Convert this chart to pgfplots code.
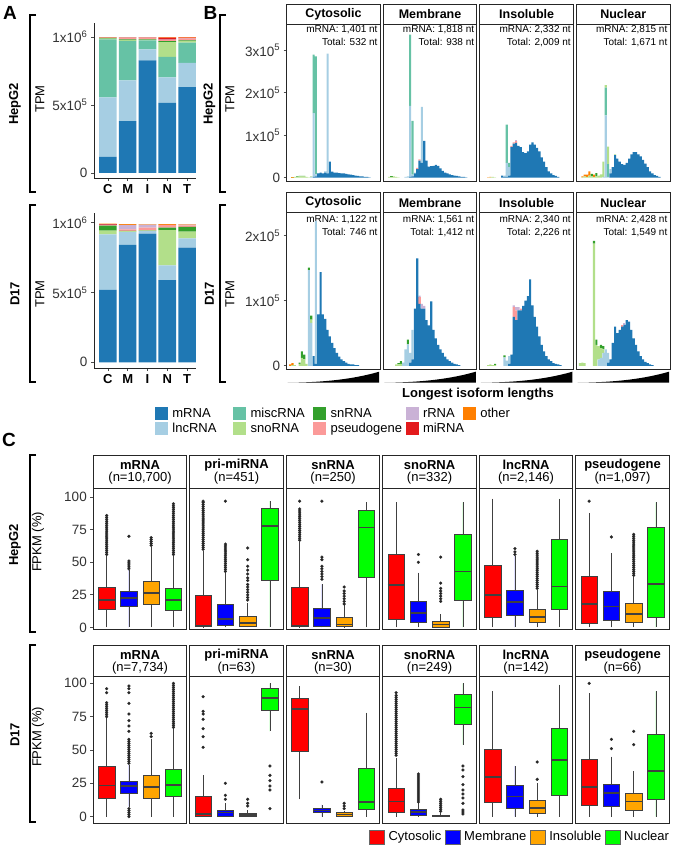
\documentclass[border=0pt]{standalone}
\usepackage{pgfplots}
\pgfplotsset{compat=1.18}
\usepackage{pgfplotstable}
\usepgfplotslibrary{statistics}
\usepackage{fontspec}
\setmainfont{Liberation Sans}
\newcommand\fs[1]{\fontsize{#1}{#1}\selectfont}
\definecolor{cm}{HTML}{1F78B4}
\definecolor{cl}{HTML}{A6CEE3}
\definecolor{cmi}{HTML}{66C2A5}
\definecolor{csno}{HTML}{B2DF8A}
\definecolor{csn}{HTML}{33A02C}
\definecolor{cps}{HTML}{FB9A99}
\definecolor{crr}{HTML}{CAB2D6}
\definecolor{cmir}{HTML}{E31A1C}
\definecolor{coth}{HTML}{FF7F00}
\definecolor{bcyt}{HTML}{FF0000}
\definecolor{bmem}{HTML}{0000FF}
\definecolor{bins}{HTML}{FFA500}
\definecolor{bnuc}{HTML}{00FF00}

\pgfplotsset{
 base/.style={scale only axis, anchor=north west, enlargelimits=false, tick align=outside,
   major tick length=3pt, tick pos=left, tick style={draw=black!70, line width=0.7pt},
   tick label style={font=\fs{13.5}, text=black!80, /pgf/number format/assume math mode=true},
   axis line style={line width=1pt, draw=black!85}},
 abar/.style={base, width=102pt, axis lines*=left,
   every inner x axis line/.append style={-}, every inner y axis line/.append style={-},
   every outer x axis line/.append style={-}, every outer y axis line/.append style={-},
   ybar stacked, bar width=0.89,
   xmin=0.3, xmax=5.45, xtick={1,2,3,4,5}, xticklabels={C,M,I,N,T},
   xticklabel style={font=\bfseries\fs{13}, text=black},
   ytick={0,0.5,1}, yticklabels={0,5x10\textsuperscript{5},1x10\textsuperscript{6}},
   every axis plot/.append style={draw=none}},
 hist/.style={base, width=93.5pt, ybar stacked, bar width=0.9, xmin=0.5, xmax=40.5,
   xtick=\empty, ytick=\empty, every axis plot/.append style={draw=none}},
 cbox/.style={base, width=93.5pt, xmin=0.4, xmax=4.6, xtick=\empty, ytick=\empty,
   boxplot/draw direction=y},
 bxs/.style={draw=black!75, fill=#1, line width=0.6pt, mark=*, mark size=1.5pt,
   mark options={fill=black!85, draw=black!85, line width=0.2pt},
   boxplot/draw direction=y, boxplot/box extend=0.75, boxplot/whisker extend=0,
   boxplot/every median/.style={line width=1.7pt, draw=black!75}},
}
\newcommand\stackA[1]{%
 \addplot[fill=cm] table[x=x,y=m]{#1};
 \addplot[fill=cl] table[x=x,y=l]{#1};
 \addplot[fill=cmi] table[x=x,y=mi]{#1};
 \addplot[fill=csno] table[x=x,y=sno]{#1};
 \addplot[fill=csn] table[x=x,y=sn]{#1};
 \addplot[fill=cps] table[x=x,y=ps]{#1};
 \addplot[fill=crr] table[x=x,y=rr]{#1};
 \addplot[fill=cmir] table[x=x,y=mir]{#1};
 \addplot[fill=coth] table[x=x,y=o]{#1};}
\newcommand\stackB[1]{%
 \addplot[fill=cm] table[x=x,y=m]{#1};
 \addplot[fill=cl] table[x=x,y=l]{#1};
 \addplot[fill=cmi] table[x=x,y=mi]{#1};
 \addplot[fill=csno] table[x=x,y=sno]{#1};
 \addplot[fill=csn] table[x=x,y=sn]{#1};
 \addplot[fill=cps] table[x=x,y=ps]{#1};
 \addplot[fill=crr] table[x=x,y=rr]{#1};
 \addplot[fill=coth] table[x=x,y=o]{#1};}
\newcommand\bxp[7]{\addplot[bxs=#1, boxplot prepared={draw position=#2, lower whisker=#3, lower quartile=#4, median=#5, upper quartile=#6, upper whisker=#7}]}
\newcommand\cstrip[5]{%
  \draw[line width=1pt, draw=black!85] (#1,#2) rectangle ({#1+93.5},#3);
  \node[font=\bfseries\fs{13}, inner sep=0pt] at ({#1+46.75},{#2+10}) {#4};
  \node[font=\fs{13}, inner sep=0pt] at ({#1+46.75},{#2+23}) {(n=#5)};}
\newcommand\ann[4]{\node[anchor=north east,align=right,inner sep=0pt,font=\fontsize{10}{13}\selectfont] at ({#1+91},#2) {mRNA: #3 nt\\Total: #4 nt};}

% ---------- Panel A data (fraction of 1x10^6 TPM)
\pgfplotstableread{
x m l mi sno sn ps rr mir o
1 0.118 0.438 0.427 0.006 0.004 0.003 0 0.002 0.002
2 0.382 0.299 0.290 0.007 0.004 0.010 0.003 0.003 0.002
3 0.828 0.081 0.066 0.004 0.003 0.012 0.002 0.002 0.002
4 0.515 0.188 0.150 0.110 0.007 0.008 0.002 0.015 0.005
5 0.632 0.177 0.149 0.012 0.005 0.013 0.002 0.006 0.004
}\tAH
\pgfplotstableread{
x m l mi sno sn ps rr mir o
1 0.518 0.398 0 0.027 0.036 0.004 0.003 0.002 0.006
2 0.842 0.091 0 0.005 0.004 0.010 0.033 0 0.005
3 0.921 0.019 0 0.003 0.002 0.020 0.022 0 0.003
4 0.589 0.106 0 0.252 0.017 0.018 0.003 0 0.005
5 0.821 0.067 0 0.048 0.035 0.010 0.005 0 0.004
}\tAD

% ---------- Panel B data (units of 1x10^5 TPM)
\pgfplotstableread{
x m l mi sno sn ps rr o
3 0 0 0 0.01 0 0 0 0.01
4 0 0 0 0.02 0 0 0 0
5 0 0 0 0.02 0.01 0 0 0
6 0 0 0 0.03 0.01 0 0 0
7 0 0 0 0.03 0.01 0 0 0
8 0 0 0 0.03 0.01 0 0 0
9 0 0 0 0.02 0 0 0 0
10 0 0 0 0.01 0 0 0 0
11 0 0.02 0 0.01 0 0 0 0
12 0.02 1.5 1.38 0 0 0 0 0
13 0.03 0.05 2.78 0 0 0 0 0
14 0.1 0.01 0 0 0 0 0 0
15 0.12 0 0 0 0 0 0 0
16 0.1 0 0 0 0 0 0 0
17 0.12 0.03 0 0 0 0 0 0
18 0.1 2.82 0 0 0 0 0 0
19 0.38 0 0 0 0 0 0 0
20 0.14 0 0 0 0 0 0 0
21 0.12 0 0 0 0 0 0 0
22 0.12 0 0 0 0 0 0 0
23 0.11 0 0 0 0 0 0 0
24 0.1 0 0 0 0 0 0 0
25 0.1 0 0 0 0 0 0 0
26 0.09 0 0 0 0 0 0 0
27 0.08 0 0 0 0 0 0 0
28 0.07 0 0 0 0 0 0 0
29 0.06 0 0 0 0 0 0 0
30 0.05 0 0 0 0 0 0 0
31 0.04 0 0 0 0 0 0 0
32 0.03 0 0 0 0 0 0 0
33 0.03 0 0 0 0 0 0 0
34 0.02 0 0 0 0 0 0 0
35 0.02 0 0 0 0 0 0 0
36 0.01 0 0 0 0 0 0 0
}\tHa
\pgfplotstableread{
x m l mi sno sn ps rr o
3 0 0 0 0.02 0 0 0 0
4 0 0 0 0.02 0.01 0 0 0
5 0 0 0 0.03 0 0 0 0
6 0 0 0 0.02 0 0 0 0
7 0 0 0 0.01 0 0 0 0
10 0 0.02 0 0 0 0 0 0
11 0 0.03 0 0 0 0 0 0
12 0.02 1.67 1.68 0 0 0 0 0
13 0.03 0.04 1.27 0 0 0 0 0
14 0.1 0.02 0 0 0 0 0 0
15 0.2 0 0 0 0 0.03 0 0
16 0.4 0 0 0 0 0.03 0 0
17 0.35 1.32 0 0 0 0 0 0
18 0.87 0 0 0 0 0 0 0
19 0.4 0 0 0 0 0 0 0
20 0.26 0 0 0 0 0 0 0
21 0.27 0 0 0 0 0 0 0
22 0.28 0 0 0 0 0 0 0
23 0.3 0 0 0 0 0 0 0
24 0.28 0 0 0 0 0 0 0
25 0.22 0 0 0 0 0 0 0
26 0.16 0 0 0 0 0 0 0
27 0.12 0 0 0 0 0 0 0
28 0.1 0 0 0 0 0 0 0
29 0.08 0 0 0 0 0 0 0
30 0.06 0 0 0 0 0 0 0
31 0.05 0 0 0 0 0 0 0
32 0.04 0 0 0 0 0 0 0
33 0.03 0 0 0 0 0 0 0
34 0.02 0 0 0 0 0 0 0
35 0.02 0 0 0 0 0 0 0
36 0.01 0 0 0 0 0 0 0
}\tHb
\pgfplotstableread{
x m l mi sno sn ps rr o
4 0 0 0 0 0 0 0 0.01
5 0 0 0 0.01 0 0 0 0.01
6 0 0 0 0.02 0 0 0 0
7 0 0 0 0.01 0 0 0 0
10 0.05 0 0 0 0 0 0 0
11 0.02 0.03 0 0 0 0 0 0
12 0.02 0.33 0.9 0 0 0 0 0
13 0.05 0.2 0.1 0 0 0 0 0
14 0.72 0 0 0 0 0.03 0 0
15 0.8 0 0 0 0 0.03 0 0
16 0.82 0 0 0 0 0.04 0.02 0
17 0.75 0 0 0 0 0 0 0
18 0.72 0 0 0 0 0 0 0
19 0.6 0 0 0 0 0 0 0
20 0.58 0 0 0 0 0 0 0
21 0.62 0 0 0 0 0 0 0
22 0.78 0 0 0 0 0 0 0
23 0.83 0 0 0 0 0 0 0
24 0.78 0 0 0 0 0 0 0
25 0.7 0 0 0 0 0 0 0
26 0.62 0 0 0 0 0 0 0
27 0.48 0 0 0 0 0 0 0
28 0.38 0 0 0 0 0 0 0
29 0.25 0 0 0 0 0 0 0
30 0.15 0 0 0 0 0 0 0
31 0.1 0 0 0 0 0 0 0
32 0.06 0 0 0 0 0 0 0
33 0.04 0 0 0 0 0 0 0
34 0.02 0 0 0 0 0 0 0
}\tHc
\pgfplotstableread{
x m l mi sno sn ps rr o
3 0 0 0 0.01 0 0 0 0.02
4 0 0 0 0.03 0 0 0 0.04
5 0 0 0 0.02 0 0 0 0.05
6 0 0 0 0.05 0 0 0 0.1
7 0 0 0 0.03 0.06 0 0 0
8 0 0 0 0.02 0 0 0 0.05
9 0 0 0 0.03 0.08 0 0 0
10 0 0 0 0.05 0 0 0 0
11 0 0 0 0.08 0 0 0 0
12 0 0.02 0 0.36 0 0 0 0
13 0 1.47 0.65 0.06 0 0 0 0
14 0 0.02 0.3 0.41 0 0 0 0
15 0.1 0.1 0 0 0 0 0 0
16 0.25 0 0 0 0 0 0 0
17 0.53 0 0 0.02 0 0 0 0
18 0.45 0 0 0 0 0 0 0
19 0.38 0 0 0 0 0 0 0
20 0.32 0 0 0 0 0 0 0
21 0.3 0 0 0 0 0 0 0
22 0.35 0 0 0 0 0 0 0
23 0.45 0 0 0 0 0 0 0
24 0.55 0 0 0 0 0 0 0
25 0.6 0 0 0 0 0 0 0
26 0.6 0 0 0 0 0 0 0
27 0.55 0 0 0 0 0 0 0
28 0.5 0 0 0 0 0 0 0
29 0.42 0 0 0 0 0 0 0
30 0.33 0 0 0 0 0 0 0
31 0.25 0 0 0 0 0 0 0
32 0.15 0 0 0 0 0 0 0
33 0.1 0 0 0 0 0 0 0
34 0.06 0 0 0 0 0 0 0
35 0.04 0 0 0 0 0 0 0
36 0.02 0 0 0 0 0 0 0
}\tHd
\pgfplotstableread{
x m l mi sno sn ps rr o
2 0 0 0 0 0 0 0 0.02
3 0 0 0 0.01 0 0 0 0.03
4 0 0 0 0.01 0 0 0 0
6 0 0 0 0.03 0.02 0 0 0
7 0 0 0 0.12 0.1 0 0 0
8 0 0 0 0.1 0.07 0 0 0
9 0 0 0 0.03 0 0 0 0
10 0 1.47 0 0 0.04 0 0 0
11 0 0.66 0 0.05 0.06 0 0 0
12 0.15 0 0 0 0 0 0 0
13 0.03 2.2 0 0 0 0 0 0
14 0.79 0 0 0 0 0 0 0
15 1.44 0 0 0 0 0 0 0
16 0.79 0 0 0 0 0 0 0
17 0.72 0 0 0 0 0 0 0
18 0.55 0 0 0 0 0 0 0
19 0.45 0 0 0 0 0 0 0
20 0.35 0 0 0 0 0 0 0
21 0.27 0 0 0 0 0 0 0
22 0.2 0 0 0 0 0 0 0
23 0.14 0 0 0 0 0 0 0
24 0.1 0 0 0 0 0 0 0
25 0.07 0 0 0 0 0 0 0
26 0.05 0 0 0 0 0 0 0
27 0.03 0 0 0 0 0 0 0
28 0.02 0 0 0 0 0 0 0
29 0.02 0 0 0 0 0 0 0
30 0.01 0 0 0 0 0 0 0
31 0.01 0 0 0 0 0 0 0
}\tDa
\pgfplotstableread{
x m l mi sno sn ps rr o
6 0 0 0 0.02 0 0 0 0
7 0 0 0 0.02 0.02 0 0 0
8 0 0 0 0.03 0.04 0 0 0
9 0 0.05 0 0 0 0 0 0
10 0 0.25 0 0 0 0 0 0
11 0 0.33 0 0 0.07 0 0 0
12 0.05 0.15 0 0 0 0 0 0
13 0.1 0.45 0 0 0 0 0 0
14 0.88 0 0 0 0 0 0 0
15 1.65 0 0 0 0 0 0 0
16 0.95 0 0 0 0 0.1 0.03 0
17 0.88 0 0 0 0 0 0.07 0
18 0.88 0 0 0 0 0 0.04 0
19 0.7 0 0 0 0 0 0 0
20 0.62 0 0 0 0 0 0 0
21 0.99 0 0 0 0 0 0 0
22 0.55 0 0 0 0 0 0 0
23 0.42 0 0 0 0 0 0 0
24 0.32 0 0 0 0 0 0 0
25 0.25 0 0 0 0 0 0 0
26 0.2 0 0 0 0 0 0 0
27 0.14 0 0 0 0 0 0 0
28 0.1 0 0 0 0 0 0 0
29 0.07 0 0 0 0 0 0 0
30 0.05 0 0 0 0 0 0 0
31 0.03 0 0 0 0 0 0 0
32 0.02 0 0 0 0 0 0 0
33 0.01 0 0 0 0 0 0 0
}\tDb
\pgfplotstableread{
x m l mi sno sn ps rr o
4 0 0 0 0.01 0 0 0 0
5 0 0 0 0.02 0 0 0 0
6 0 0 0 0.01 0 0 0 0
7 0 0 0 0.01 0.02 0 0 0
11 0 0.13 0 0 0.03 0 0 0
12 0 0.08 0 0 0 0 0 0
13 0.03 0.12 0 0 0 0 0 0
14 0.17 0 0 0 0 0 0 0
15 0.75 0 0 0 0 0.15 0.03 0
16 0.7 0 0 0 0 0.15 0.05 0
17 0.85 0 0 0 0 0 0.05 0
18 0.85 0 0 0 0 0.03 0 0
19 0.92 0 0 0 0 0 0 0
20 1.0 0 0 0 0 0 0 0
21 1.07 0 0 0 0 0 0 0
22 1.33 0 0 0 0 0 0 0
23 0.93 0 0 0 0 0 0 0
24 0.75 0 0 0 0 0 0 0
25 0.6 0 0 0 0 0 0 0
26 0.45 0 0 0 0 0 0 0
27 0.32 0 0 0 0 0 0 0
28 0.22 0 0 0 0 0 0 0
29 0.15 0 0 0 0 0 0 0
30 0.1 0 0 0 0 0 0 0
31 0.07 0 0 0 0 0 0 0
32 0.04 0 0 0 0 0 0 0
33 0.03 0 0 0 0 0 0 0
34 0.02 0 0 0 0 0 0 0
35 0.01 0 0 0 0 0 0 0
}\tDc
\pgfplotstableread{
x m l mi sno sn ps rr o
2 0 0 0 0.04 0 0 0 0
3 0 0 0 0.05 0 0 0 0
4 0 0 0 0.04 0 0 0 0
8 0 0 0 1.88 0.04 0 0 0
9 0 0 0 0.32 0.08 0 0 0
10 0 0.1 0 0.2 0 0 0 0
11 0 0.12 0 0.15 0.05 0 0 0
12 0 0.2 0 0.05 0.05 0 0 0
13 0 0.25 0 0 0 0 0 0
14 0.05 0.15 0 0 0 0 0 0
15 0.1 0 0 0 0 0 0 0
16 0.35 0 0 0 0 0 0 0
17 0.6 0 0 0 0 0 0 0
18 0.5 0 0 0 0 0 0 0
19 0.55 0 0 0 0 0 0 0
20 0.6 0 0 0 0 0.03 0 0
21 0.63 0 0 0 0 0 0.03 0
22 0.7 0 0 0 0 0 0 0
23 0.68 0 0 0 0 0 0 0
24 0.55 0 0 0 0 0 0 0
25 0.42 0 0 0 0 0 0 0
26 0.32 0 0 0 0 0 0 0
27 0.22 0 0 0 0 0 0 0
28 0.15 0 0 0 0 0 0 0
29 0.1 0 0 0 0 0 0 0
30 0.06 0 0 0 0 0 0 0
31 0.04 0 0 0 0 0 0 0
32 0.02 0 0 0 0 0 0 0
33 0.01 0 0 0 0 0 0 0
}\tDd

\begin{document}
\begin{tikzpicture}
\path[use as bounding box] (0pt,0pt) rectangle (673pt,-846pt);
\begin{scope}[x=1pt,y=-1pt]
\node[font=\bfseries\fs{19}] at (10,13) {A};
\node[font=\bfseries\fs{19}] at (210.5,13) {B};
\node[font=\bfseries\fs{19}] at (9,440) {C};
\foreach \xx/\ya/\yb in {30/15/192,30/205/382,220/15/192,220/205/382,30/455/632,30/645/822}
  {\draw[line width=1.3pt] (\xx+6,\ya) -- (\xx,\ya) -- (\xx,\yb) -- (\xx+6,\yb);}
\node[rotate=90,font=\bfseries\fs{13}] at (15,104) {HepG2};
\node[rotate=90,font=\fs{13}] at (40,99) {TPM};
\node[rotate=90,font=\bfseries\fs{13}] at (15,294) {D17};
\node[rotate=90,font=\fs{13}] at (40,294) {TPM};
\node[rotate=90,font=\bfseries\fs{13}] at (209.5,104) {HepG2};
\node[rotate=90,font=\fs{13}] at (230,99) {TPM};
\node[rotate=90,font=\bfseries\fs{13}] at (209.5,294) {D17};
\node[rotate=90,font=\fs{13}] at (230,294) {TPM};
\node[rotate=90,font=\bfseries\fs{13}] at (15,545) {HepG2};
\node[rotate=90,font=\fs{13}] at (38,542) {FPKM (\%)};
\node[rotate=90,font=\bfseries\fs{13}] at (15,735) {D17};
\node[rotate=90,font=\fs{13}] at (38,737) {FPKM (\%)};
\foreach \L/\T in {286.7/Cytosolic,383.3/Membrane,479.9/Insoluble,576.5/Nuclear}{
  \draw[line width=1pt,draw=black!85] (\L,4) rectangle (\L+93.5,24);
  \node[font=\bfseries\fs{12.5}] at (\L+46.75,14) {\T};
  \draw[line width=1pt,draw=black!85] (\L,192.7) rectangle (\L+93.5,212.7);
  \node[font=\bfseries\fs{12.5}] at (\L+46.75,202.7) {\T};
  \fill (\L+1,382.7) -- (\L+92.5,382.7) -- (\L+92.5,371.7) .. controls (\L+62,380.5) and (\L+30,382.4) .. (\L+1,382.7) -- cycle;
}
\ann{286.7}{25.3}{1,401}{532}
\ann{383.3}{25.3}{1,818}{938}
\ann{479.9}{25.3}{2,332}{2,009}
\ann{576.5}{25.3}{2,815}{1,671}
\ann{286.7}{215}{1,122}{746}
\ann{383.3}{215}{1,561}{1,412}
\ann{479.9}{215}{2,340}{2,226}
\ann{576.5}{215}{2,428}{1,549}
\node[font=\bfseries\fs{13}] at (478,394) {Longest isoform lengths};
\cstrip{93.3}{455}{488.3}{mRNA}{10,700}
\cstrip{189.8}{455}{488.3}{pri-miRNA}{451}
\cstrip{286.3}{455}{488.3}{snRNA}{250}
\cstrip{382.8}{455}{488.3}{snoRNA}{332}
\cstrip{479.3}{455}{488.3}{lncRNA}{2,146}
\cstrip{575.8}{455}{488.3}{pseudogene}{1,097}
\cstrip{93.3}{645}{676}{mRNA}{7,734}
\cstrip{189.8}{645}{676}{pri-miRNA}{63}
\cstrip{286.3}{645}{676}{snRNA}{30}
\cstrip{382.8}{645}{676}{snoRNA}{249}
\cstrip{479.3}{645}{676}{lncRNA}{142}
\cstrip{575.8}{645}{676}{pseudogene}{66}
\end{scope}

% ---------------- Panel A
\begin{axis}[abar, at={(94pt,-23pt)}, height=155pt, ymin=-0.0368, ymax=1.103]
\stackA{\tAH}
\end{axis}
\begin{axis}[abar, at={(94pt,-213pt)}, height=155pt, ymin=-0.0408, ymax=1.0695]
\stackA{\tAD}
\end{axis}

% ---------------- Panel B
\begin{axis}[hist, at={(286.7pt,-24pt)}, height=157pt, ymin=-0.078, ymax=3.62, ytick={0,1,2,3}, yticklabels={0,1x10\textsuperscript{5},2x10\textsuperscript{5},3x10\textsuperscript{5}}]
\stackB{\tHa}
\end{axis}
\begin{axis}[hist, at={(383.3pt,-24pt)}, height=157pt, ymin=-0.078, ymax=3.62]
\stackB{\tHb}
\end{axis}
\begin{axis}[hist, at={(479.9pt,-24pt)}, height=157pt, ymin=-0.078, ymax=3.62]
\stackB{\tHc}
\end{axis}
\begin{axis}[hist, at={(576.5pt,-24pt)}, height=157pt, ymin=-0.078, ymax=3.62]
\stackB{\tHd}
\end{axis}
\begin{axis}[hist, at={(286.7pt,-212.7pt)}, height=156.3pt, ymin=-0.05, ymax=2.354, ytick={0,1,2}, yticklabels={0,1x10\textsuperscript{5},2x10\textsuperscript{5}}]
\stackB{\tDa}
\end{axis}
\begin{axis}[hist, at={(383.3pt,-212.7pt)}, height=156.3pt, ymin=-0.05, ymax=2.354]
\stackB{\tDb}
\end{axis}
\begin{axis}[hist, at={(479.9pt,-212.7pt)}, height=156.3pt, ymin=-0.05, ymax=2.354]
\stackB{\tDc}
\end{axis}
\begin{axis}[hist, at={(576.5pt,-212.7pt)}, height=156.3pt, ymin=-0.05, ymax=2.354]
\stackB{\tDd}
\end{axis}

% ---------------- legend B
\begin{axis}[hide axis, scale only axis, width=1pt, height=1pt, xmin=0, xmax=1, ymin=0, ymax=1,
  at={(155pt,-421pt)}, anchor=south west, legend columns=5, legend cell align=left,
  legend image code/.code={\fill[#1] (0pt,-6.3pt) rectangle (12.7pt,6.3pt);},
  legend style={at={(0,0)}, anchor=west, draw=none, fill=none, inner sep=0pt, font=\fs{13},
    row sep=1.5pt, nodes={inner ysep=1.5pt, inner xsep=2pt},
    /tikz/every odd column/.append style={column sep=2.5pt},
    /tikz/column 2/.style={column sep=15pt},
    /tikz/column 4/.style={column sep=6.5pt},
    /tikz/column 6/.style={column sep=1.7pt},
    /tikz/column 8/.style={column sep=-3pt}}]
\addlegendimage{fill=cm,draw=none}\addlegendentry{mRNA}
\addlegendimage{fill=cmi,draw=none}\addlegendentry{miscRNA}
\addlegendimage{fill=csn,draw=none}\addlegendentry{snRNA}
\addlegendimage{fill=crr,draw=none}\addlegendentry{rRNA}
\addlegendimage{fill=coth,draw=none}\addlegendentry{other}
\addlegendimage{fill=cl,draw=none}\addlegendentry{lncRNA}
\addlegendimage{fill=csno,draw=none}\addlegendentry{snoRNA}
\addlegendimage{fill=cps,draw=none}\addlegendentry{pseudogene}
\addlegendimage{fill=cmir,draw=none}\addlegendentry{miRNA}
\end{axis}

% ---------------- Panel C row 1 (HepG2)
\begin{axis}[cbox, at={(93.3pt,-488.3pt)}, height=141pt, ymin=-1.5, ymax=106.9, ytick={0,25,50,75,100}]
\bxp{bcyt}{1}{0}{13.8}{21}{30.5}{55} table[row sep=\\,y=v]{v\\56\\57.5\\59\\60.5\\62\\63.5\\65\\66.5\\68\\69.5\\71\\72.5\\74\\75.5\\77\\78.5\\80\\81.5\\83\\84.5\\86\\};
\bxp{bmem}{2}{0}{16.4}{22.8}{27.9}{44} table[row sep=\\,y=v]{v\\45\\46.5\\48\\49.5\\51\\70\\};
\bxp{bins}{3}{0}{17.7}{26.2}{35.4}{62} table[row sep=\\,y=v]{v\\63\\64.5\\66\\67.5\\69\\};
\bxp{bnuc}{4}{0}{13.3}{21}{30.3}{55} table[row sep=\\,y=v]{v\\56\\57.5\\59\\60.5\\62\\63.5\\65\\66.5\\68\\69.5\\71\\72.5\\74\\75.5\\77\\78.5\\80\\81.5\\83\\84.5\\86\\87.5\\89\\90.5\\92\\93.5\\95\\};
\end{axis}
\begin{axis}[cbox, at={(189.8pt,-488.3pt)}, height=141pt, ymin=-1.5, ymax=106.9]
\bxp{bcyt}{1}{0}{0.5}{1}{24.4}{59} table[row sep=\\,y=v]{v\\60\\61.5\\63\\64.5\\66\\67.5\\69\\70.5\\72\\73.5\\75\\76.5\\78\\79.5\\81\\82.5\\84\\85.5\\87\\88.5\\90\\91.5\\93\\94.5\\96\\97\\};
\bxp{bmem}{2}{0}{1.8}{6.2}{17.7}{42} table[row sep=\\,y=v]{v\\43\\44.5\\46\\47.5\\49\\50.5\\52\\53.5\\55\\56.5\\58\\59.5\\61\\62.5\\64\\97\\};
\bxp{bins}{3}{0}{1}{3.3}{8.7}{19} table[row sep=\\,y=v]{v\\21\\23\\25\\27\\29\\31\\33\\36\\38\\41\\44\\47\\52\\61\\};
\bxp{bnuc}{4}{0}{35.9}{78}{91.5}{97} coordinates {};
\end{axis}
\begin{axis}[cbox, at={(286.3pt,-488.3pt)}, height=141pt, ymin=-1.5, ymax=106.9]
\bxp{bcyt}{1}{0}{0.5}{0.8}{30.8}{66} table[row sep=\\,y=v]{v\\67\\68.5\\70\\71.5\\73\\74.5\\76\\77.5\\79\\80.5\\82\\83.5\\85\\86.5\\88\\89.5\\91\\97\\};
\bxp{bmem}{2}{0}{1}{7}{14.6}{33} table[row sep=\\,y=v]{v\\37\\39\\41\\43\\45\\47\\52\\54\\97\\};
\bxp{bins}{3}{0}{0.5}{2.3}{7.7}{17} table[row sep=\\,y=v]{v\\18\\20\\22\\24\\26\\28\\31\\};
\bxp{bnuc}{4}{0}{38.5}{76.7}{90.3}{96} coordinates {};
\end{axis}
\begin{axis}[cbox, at={(382.8pt,-488.3pt)}, height=141pt, ymin=-1.5, ymax=106.9]
\bxp{bcyt}{1}{0}{6.2}{32.8}{55.9}{96} coordinates {};
\bxp{bmem}{2}{0}{3.6}{11}{19.7}{42} table[row sep=\\,y=v]{v\\50\\56\\};
\bxp{bins}{3}{0}{0.3}{2.3}{4.9}{10} table[row sep=\\,y=v]{v\\20\\22\\24\\26\\28\\30\\34\\54\\};
\bxp{bnuc}{4}{0}{21}{43}{71.5}{96} coordinates {};
\end{axis}
\begin{axis}[cbox, at={(479.3pt,-488.3pt)}, height=141pt, ymin=-1.5, ymax=106.9]
\bxp{bcyt}{1}{0}{7.7}{25}{47.7}{99} coordinates {};
\bxp{bmem}{2}{0}{9}{19.5}{28.2}{55} table[row sep=\\,y=v]{v\\56\\58\\60.5\\};
\bxp{bins}{3}{0}{3.6}{8.2}{13.8}{29} table[row sep=\\,y=v]{v\\30\\31.5\\33\\34.5\\36\\37.5\\39\\40.5\\42\\43.5\\45\\46.5\\48\\49.5\\51\\52.5\\54\\55.5\\57\\58.5\\};
\bxp{bnuc}{4}{0}{13.6}{31.3}{68}{99} coordinates {};
\end{axis}
\begin{axis}[cbox, at={(575.8pt,-488.3pt)}, height=141pt, ymin=-1.5, ymax=106.9]
\bxp{bcyt}{1}{0}{3}{18}{39}{88} table[row sep=\\,y=v]{v\\97\\};
\bxp{bmem}{2}{0}{5.4}{16}{27.4}{57} table[row sep=\\,y=v]{v\\69.5\\};
\bxp{bins}{3}{0}{3.8}{10.3}{18.2}{39} table[row sep=\\,y=v]{v\\40\\41.5\\43\\44.5\\46\\47.5\\49\\50.5\\52\\53.5\\55\\56.5\\58\\59.5\\61\\62.5\\64\\65.5\\67\\68.5\\70\\71.5\\};
\bxp{bnuc}{4}{0}{7.7}{33.3}{77}{96} coordinates {};
\end{axis}

% ---------------- Panel C row 2 (D17)
\begin{axis}[cbox, at={(93.3pt,-676pt)}, height=147.3pt, ymin=-5, ymax=105.5, ytick={0,25,50,75,100}]
\bxp{bcyt}{1}{0}{13.5}{23.3}{38}{74} table[row sep=\\,y=v]{v\\75\\76.5\\78\\79.5\\81\\82.5\\84\\85.5\\93\\96\\};
\bxp{bmem}{2}{7.5}{17.5}{23}{26.5}{39} table[row sep=\\,y=v]{v\\0\\1.5\\3\\4.5\\6\\40\\41.5\\43\\44.5\\46\\47.5\\49\\50.5\\52\\53.5\\55\\56.5\\58\\64\\68\\72\\77\\85\\93\\96\\98\\};
\bxp{bins}{3}{0}{13.5}{22.3}{31}{58} table[row sep=\\,y=v]{v\\60\\62.5\\};
\bxp{bnuc}{4}{0}{15}{23.5}{35.5}{66} table[row sep=\\,y=v]{v\\67\\68.5\\70\\71.5\\73\\74.5\\76\\77.5\\79\\80.5\\82\\83.5\\85\\86.5\\88\\89.5\\91\\92.5\\94\\95.5\\97\\98.5\\100\\};
\end{axis}
\begin{axis}[cbox, at={(189.8pt,-676pt)}, height=147.3pt, ymin=-5, ymax=105.5]
\bxp{bcyt}{1}{0}{0}{2}{15.3}{31} table[row sep=\\,y=v]{v\\52\\60\\66\\73\\77\\79\\90\\};
\bxp{bmem}{2}{0}{0}{3}{5}{10} table[row sep=\\,y=v]{v\\13\\16\\25\\};
\bxp{bins}{3}{0}{0}{1.3}{2.3}{5} table[row sep=\\,y=v]{v\\8\\10\\13\\};
\bxp{bnuc}{4}{64}{79.5}{89}{96}{100} table[row sep=\\,y=v]{v\\6\\20\\23\\27\\31\\38\\};
\end{axis}
\begin{axis}[cbox, at={(286.3pt,-676pt)}, height=147.3pt, ymin=-5, ymax=105.5]
\bxp{bcyt}{1}{13}{49}{81}{88.5}{98} coordinates {};
\bxp{bmem}{2}{0}{3}{4.5}{6.3}{9} table[row sep=\\,y=v]{v\\26\\};
\bxp{bins}{3}{0}{0.5}{1.7}{3}{4} table[row sep=\\,y=v]{v\\6\\8\\10\\};
\bxp{bnuc}{4}{0}{5.5}{10.8}{36}{78} coordinates {};
\end{axis}
\begin{axis}[cbox, at={(382.8pt,-676pt)}, height=147.3pt, ymin=-5, ymax=105.5]
\bxp{bcyt}{1}{0}{3}{11.3}{21.5}{44} table[row sep=\\,y=v]{v\\46\\47.5\\49\\50.5\\52\\53.5\\55\\56.5\\58\\59.5\\61\\62.5\\64\\65.5\\67\\68.5\\70\\71.5\\73\\74.5\\76\\77.5\\79\\80.5\\82\\83.5\\85\\86.5\\88\\89.5\\91\\93\\};
\bxp{bmem}{2}{0}{1}{3.5}{5.5}{10} table[row sep=\\,y=v]{v\\11\\12.5\\14\\15.5\\17\\18.5\\20\\21.5\\23\\24.5\\26\\27.5\\29\\30.5\\32\\};
\bxp{bins}{3}{0}{0}{0.5}{1.3}{3} table[row sep=\\,y=v]{v\\4\\5.5\\7\\8.5\\10\\11.5\\13\\};
\bxp{bnuc}{4}{54}{69}{81.8}{91.8}{100} table[row sep=\\,y=v]{v\\2\\3.5\\5\\10\\14\\17\\20\\24\\30\\35\\38\\};
\end{axis}
\begin{axis}[cbox, at={(479.3pt,-676pt)}, height=147.3pt, ymin=-5, ymax=105.5]
\bxp{bcyt}{1}{0}{10.5}{29.8}{50.5}{94} coordinates {};
\bxp{bmem}{2}{0}{6}{15}{23.3}{38} coordinates {};
\bxp{bins}{3}{0}{2.3}{6.3}{12}{25} table[row sep=\\,y=v]{v\\28\\41\\};
\bxp{bnuc}{4}{0}{16.3}{42.5}{66.3}{99} coordinates {};
\end{axis}
\begin{axis}[cbox, at={(575.8pt,-676pt)}, height=147.3pt, ymin=-5, ymax=105.5]
\bxp{bcyt}{1}{0}{8.5}{22.5}{43.3}{92.5} table[row sep=\\,y=v]{v\\100\\};
\bxp{bmem}{2}{0}{8}{17.5}{24.5}{45} table[row sep=\\,y=v]{v\\51\\58\\};
\bxp{bins}{3}{0}{5}{11.3}{17.5}{34} table[row sep=\\,y=v]{v\\54\\64\\};
\bxp{bnuc}{4}{0}{13}{34.5}{61.8}{94} coordinates {};
\end{axis}

% ---------------- legend C
\begin{axis}[hide axis, scale only axis, width=1pt, height=1pt, xmin=0, xmax=1, ymin=0, ymax=1,
  at={(369pt,-837pt)}, anchor=south west, legend columns=4, legend cell align=left,
  legend image code/.code={\fill[#1] (0pt,-7pt) rectangle (15pt,7pt);},
  legend style={at={(0,0)}, anchor=west, draw=none, fill=none, inner sep=0pt, font=\fs{13},
    nodes={inner ysep=1.5pt, inner xsep=1.5pt},
    /tikz/every odd column/.append style={column sep=2.5pt},
    /tikz/every even column/.append style={column sep=2pt}}]
\addlegendimage{fill=bcyt,draw=black!60}\addlegendentry{Cytosolic}
\addlegendimage{fill=bmem,draw=black!60}\addlegendentry{Membrane}
\addlegendimage{fill=bins,draw=black!60}\addlegendentry{Insoluble}
\addlegendimage{fill=bnuc,draw=black!60}\addlegendentry{Nuclear}
\end{axis}
\end{tikzpicture}
\end{document}
